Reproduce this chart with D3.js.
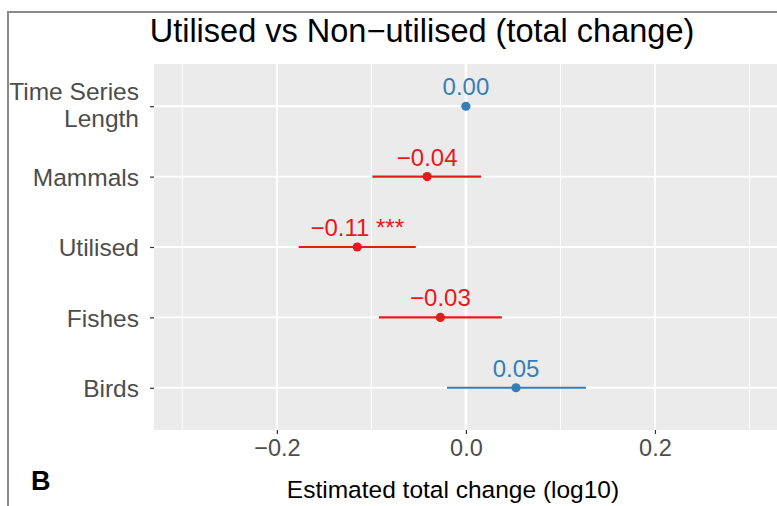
<!DOCTYPE html>
<meta charset="utf-8">
<script src="https://d3js.org/d3.v7.min.js"></script>
<style>
  body { margin: 0; background: #fff; }
  text { font-family: "Liberation Sans", Arial, sans-serif; }
</style>
<div id="forest"></div>
<script>

// data
var categories = ["Time Series Length", "Mammals", "Utilised", "Fishes", "Birds"];
var estimates  = [0.000, -0.041, -0.115, -0.027, 0.053];
var lowers     = [0.000, -0.099, -0.177, -0.092, -0.020];
var uppers     = [0.000,  0.016, -0.053,  0.038,  0.127];
var labels     = ["0.00", "\u22120.04", "\u22120.11 ***", "\u22120.03", "0.05"];
var groups     = ["pos", "neg", "neg", "neg", "pos"];
var xTicks     = [-0.2, 0.0, 0.2];
var xMinor     = [-0.3, -0.1, 0.1, 0.3];

var W = 777, H = 506;
var margin = {top: 64, right: -15, bottom: 76, left: 154};

var svg = d3.select("#forest")
  .append("svg")
    .attr("width", W)
    .attr("height", H);

// frame of the cropped figure
svg.append("path")
  .attr("d", "M8,506 V12 H777")
  .style("fill", "none")
  .style("stroke", "#8a8a8a")
  .style("stroke-width", 2);

var x = d3.scaleLinear()
  .domain([-0.33, 0.345])
  .range([margin.left, W - margin.right]);

var y = d3.scalePoint()
  .domain(categories)
  .range([margin.top, H - margin.bottom])
  .padding(0.6);

var colour = d3.scaleOrdinal()
  .domain(["pos", "neg"])
  .range(["#377EB8", "#E41A1C"]);

var panel = svg.append("g");

panel.append("rect")
  .attr("x", x.range()[0])
  .attr("y", margin.top)
  .attr("width", x.range()[1] - x.range()[0])
  .attr("height", H - margin.bottom - margin.top)
  .style("fill", "#EBEBEB");

// minor grid
panel.selectAll(".minor")
  .data(xMinor)
  .enter().append("line")
    .attr("x1", d => x(d)).attr("x2", d => x(d))
    .attr("y1", margin.top).attr("y2", H - margin.bottom)
    .style("stroke", "#fff")
    .style("stroke-width", 0.9);

// major grid
panel.selectAll(".majorx")
  .data(xTicks)
  .enter().append("line")
    .attr("x1", d => x(d)).attr("x2", d => x(d))
    .attr("y1", margin.top).attr("y2", H - margin.bottom)
    .style("stroke", "#fff")
    .style("stroke-width", d => d === 0 ? 2.6 : 1.8);

panel.selectAll(".majory")
  .data(categories)
  .enter().append("line")
    .attr("x1", x.range()[0]).attr("x2", x.range()[1])
    .attr("y1", d => y(d)).attr("y2", d => y(d))
    .style("stroke", "#fff")
    .style("stroke-width", 1.8);

// x axis
var xAxis = svg.append("g")
  .attr("transform", "translate(0," + (H - margin.bottom) + ")")
  .call(d3.axisBottom(x).tickValues(xTicks).tickSize(4).tickPadding(5)
        .tickFormat(d => d3.format(".1f")(d).replace("-", "\u2212")));
xAxis.select(".domain").remove();
xAxis.selectAll("line").style("stroke", "#333").style("stroke-width", 1.2);
xAxis.selectAll("text")
  .style("font-size", "23.5px")
  .style("fill", "#4D4D4D")
  .style("font-family", "Liberation Sans, Arial, sans-serif");

// y axis
var yAxis = svg.append("g")
  .attr("transform", "translate(" + margin.left + ",0)")
  .call(d3.axisLeft(y).tickSize(4).tickPadding(7).tickFormat(""));
yAxis.select(".domain").remove();
yAxis.selectAll("line").style("stroke", "#333").style("stroke-width", 1.2);

yAxis.selectAll(".tick").each(function(d) {
  var t = d3.select(this).append("text")
    .attr("x", -15)
    .style("text-anchor", "end")
    .style("font-size", "24.5px")
    .style("fill", "#4D4D4D")
    .style("font-family", "Liberation Sans, Arial, sans-serif");
  var lines = d === "Time Series Length" ? ["Time Series", "Length"] : [d];
  lines.forEach(function(l, i) {
    t.append("tspan")
      .attr("x", -15)
      .attr("y", (i - (lines.length - 1) / 2) * 27 - (lines.length - 1) * 2.5)
      .attr("dy", "0.36em")
      .text(l);
  });
});

var rows = categories.map(function(c, i) {
  return {cat: c, est: estimates[i], lo: lowers[i], hi: uppers[i], lab: labels[i], g: groups[i]};
});

// error bars
panel.selectAll(".err")
  .data(rows)
  .enter().append("line")
    .attr("x1", d => x(d.lo)).attr("x2", d => x(d.hi))
    .attr("y1", d => y(d.cat)).attr("y2", d => y(d.cat))
    .style("stroke", d => colour(d.g))
    .style("stroke-width", 2.2);

panel.selectAll(".pt")
  .data(rows)
  .enter().append("circle")
    .attr("cx", d => x(d.est))
    .attr("cy", d => y(d.cat))
    .attr("r", 4.6)
    .style("fill", d => colour(d.g));

panel.selectAll(".lab")
  .data(rows)
  .enter().append("text")
    .attr("x", d => x(d.est))
    .attr("y", d => y(d.cat) - 11)
    .style("text-anchor", "middle")
    .style("font-size", "24px")
    .style("fill", d => colour(d.g))
    .text(d => d.lab);

// titles
svg.append("text")
  .attr("x", 422)
  .attr("y", 42)
  .style("text-anchor", "middle")
  .style("font-size", "32.5px")
  .style("fill", "#000")
  .text("Utilised vs Non\u2212utilised (total change)");

svg.append("text")
  .attr("x", 453)
  .attr("y", 498)
  .style("text-anchor", "middle")
  .style("font-size", "24.5px")
  .style("fill", "#000")
  .text("Estimated total change (log10)");

svg.append("text")
  .attr("x", 31)
  .attr("y", 490)
  .style("font-size", "27px")
  .style("font-weight", "bold")
  .style("fill", "#000")
  .text("B");

</script>
